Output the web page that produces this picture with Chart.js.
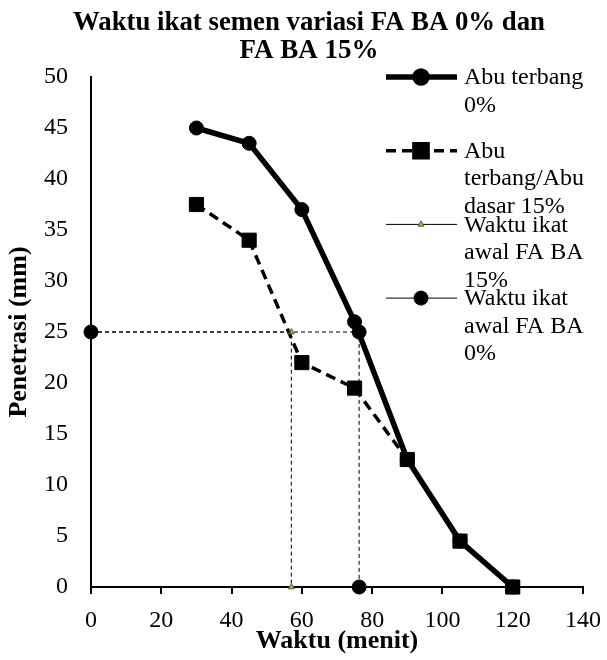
<!DOCTYPE html>
<html>
<head>
<meta charset="utf-8">
<title>Waktu ikat semen</title>
<script src="https://cdn.jsdelivr.net/npm/chart.js@4"></script>
<style>
  html, body { margin: 0; padding: 0; background: #fff; }
  #wrap { width: 607px; height: 660px; }
</style>
</head>
<body>
<div id="wrap"><canvas id="setChart" width="607" height="660"></canvas></div>
<script>
// Data
const waktu = [30, 45, 60, 75, 90, 105, 120];
const penetrasiFA0 = [45, 43.5, 37, 26, 12.5, 4.5, 0];
const penetrasiFA15 = [37.5, 34, 22, 19.5, 12.5, 4.5, 0];
const ikatAwal15X = [0, 57, 57];
const ikatAwal15Y = [25, 25, 0];
const ikatAwal0X = [0, 76.3, 76.3];
const ikatAwal0Y = [25, 25, 0];
const seriesLabels = [
    'Abu terbang 0%',
    'Abu terbang/Abu dasar 15%',
    'Waktu ikat awal FA BA 15%',
    'Waktu ikat awal FA BA 0%'
];
const chartTitle = ['Waktu ikat semen variasi FA BA 0% dan', 'FA BA 15%'];
const xTicks = [0, 20, 40, 60, 80, 100, 120, 140];
const yTicks = [0, 5, 10, 15, 20, 25, 30, 35, 40, 45, 50];

const FONT = '"Liberation Serif", "Times New Roman", serif';

function toPoints(xs, ys) {
    return xs.map((x, i) => ({ x: x, y: ys[i] }));
}

// word wrap for the legend text
function wrapText(ctx, text, maxW) {
    const words = text.split(' ');
    const lines = [];
    let cur = '';
    words.forEach(w => {
        const test = cur ? cur + ' ' + w : w;
        if (cur && ctx.measureText(test).width > maxW) {
            lines.push(cur);
            cur = w;
        } else {
            cur = test;
        }
    });
    if (cur) lines.push(cur);
    return lines;
}

// Title drawn by hand so it can sit off-centre like the Excel original
const topTitle = {
    id: 'topTitle',
    afterDraw(chart) {
        const ctx = chart.ctx;
        ctx.save();
        ctx.font = 'bold 27px ' + FONT;
        ctx.fillStyle = '#000';
        ctx.textAlign = 'center';
        ctx.textBaseline = 'middle';
        chartTitle.forEach((ln, i) => ctx.fillText(ln, 309, 23 + i * 28, 472));
        ctx.restore();
    }
};

// Excel-like legend: line sample with marker, text wrapped at the right
const sideLegend = {
    id: 'sideLegend',
    afterDraw(chart) {
        const ctx = chart.ctx;
        const sampleDash = [[], [10, 6], [], []];
        ctx.save();
        ctx.font = '24px ' + FONT;
        ctx.textBaseline = 'middle';
        chart.data.datasets.forEach((ds, i) => {
            const y = 78 + i * 73.7;
            ctx.beginPath();
            ctx.setLineDash(sampleDash[i]);
            ctx.lineWidth = ds.borderWidth;
            ctx.strokeStyle = ds.borderColor;
            ctx.moveTo(386, y - 1);
            ctx.lineTo(457, y - 1);
            ctx.stroke();
            ctx.setLineDash([]);
            ctx.fillStyle = ds.pointBackgroundColor;
            ctx.strokeStyle = ds.pointBorderColor;
            Chart.helpers.drawPoint(ctx, {
                pointStyle: ds.pointStyle,
                radius: i === 0 ? 6 : ds.pointRadius,
                borderWidth: ds.pointBorderWidth,
                rotation: 0
            }, 421, y - 1);
            ctx.fillStyle = '#000';
            wrapText(ctx, ds.label, 143).forEach((ln, j) => {
                ctx.fillText(ln, 464, y + j * 27.5);
            });
        });
        ctx.restore();
    }
};

new Chart(document.getElementById('setChart'), {
    type: 'scatter',
    data: {
        datasets: [{
            label: seriesLabels[0],
            data: toPoints(waktu, penetrasiFA0),
            showLine: true,
            borderColor: '#000',
            borderWidth: 5.5,
            pointStyle: 'circle',
            pointRadius: 7,
            pointBackgroundColor: '#000',
            pointBorderColor: '#000',
            pointBorderWidth: 1,
            clip: false,
            order: 4
        }, {
            label: seriesLabels[1],
            data: toPoints(waktu, penetrasiFA15),
            showLine: true,
            borderColor: '#000',
            borderWidth: 3.5,
            borderDash: [10, 6],
            pointStyle: 'rect',
            pointRadius: 10,
            pointBackgroundColor: '#000',
            pointBorderColor: '#000',
            pointBorderWidth: 1,
            clip: false,
            order: 3
        }, {
            label: seriesLabels[2],
            data: toPoints(ikatAwal15X, ikatAwal15Y),
            showLine: true,
            borderColor: '#000',
            borderWidth: 1,
            borderDash: [4, 3],
            pointStyle: 'triangle',
            pointRadius: 3.5,
            pointBackgroundColor: '#9BBB59',
            pointBorderColor: '#4F6228',
            pointBorderWidth: 1,
            clip: false,
            order: 2
        }, {
            label: seriesLabels[3],
            data: toPoints(ikatAwal0X, ikatAwal0Y),
            showLine: true,
            borderColor: '#000',
            borderWidth: 1,
            borderDash: [4, 3],
            pointStyle: 'circle',
            pointRadius: 7,
            pointBackgroundColor: '#000',
            pointBorderColor: '#000',
            pointBorderWidth: 1,
            clip: false,
            order: 1
        }]
    },
    options: {
        responsive: false,
        animation: false,
        layout: { padding: { left: 0, right: 24, top: 77, bottom: 0 } },
        plugins: {
            legend: { display: false },
            tooltip: { enabled: false },
            title: { display: false }
        },
        scales: {
            x: {
                type: 'linear',
                min: xTicks[0],
                max: xTicks[xTicks.length - 1],
                afterFit: s => {
                    s.height = 73;
                    // keep the plot edge fixed, the "140" label may hang over
                    s.paddingLeft = 0;
                    s.paddingRight = 0;
                },
                ticks: {
                    stepSize: xTicks[1] - xTicks[0],
                    color: '#000',
                    padding: 12,
                    maxRotation: 0,
                    font: { family: FONT, size: 24 }
                },
                grid: { display: true, drawOnChartArea: false, drawTicks: true, tickLength: 7, color: '#000', lineWidth: 2 },
                border: { display: true, color: '#000', width: 2 },
                title: {
                    display: true,
                    text: 'Waktu (menit)',
                    color: '#000',
                    font: { family: FONT, size: 26, weight: 'bold', lineHeight: 1 },
                    padding: { top: 0, bottom: 6 }
                }
            },
            y: {
                type: 'linear',
                min: yTicks[0],
                max: yTicks[yTicks.length - 1],
                afterFit: s => { s.width = 91; },
                ticks: {
                    stepSize: yTicks[1] - yTicks[0],
                    color: '#000',
                    padding: 23,
                    font: { family: FONT, size: 24 }
                },
                grid: { display: false, drawTicks: false },
                border: { display: true, color: '#000', width: 2 },
                title: {
                    display: true,
                    text: 'Penetrasi (mm)',
                    color: '#000',
                    font: { family: FONT, size: 26, weight: 'bold', lineHeight: 1 },
                    padding: { top: 6, bottom: 0 }
                }
            }
        }
    },
    plugins: [topTitle, sideLegend]
});
</script>
</body>
</html>
